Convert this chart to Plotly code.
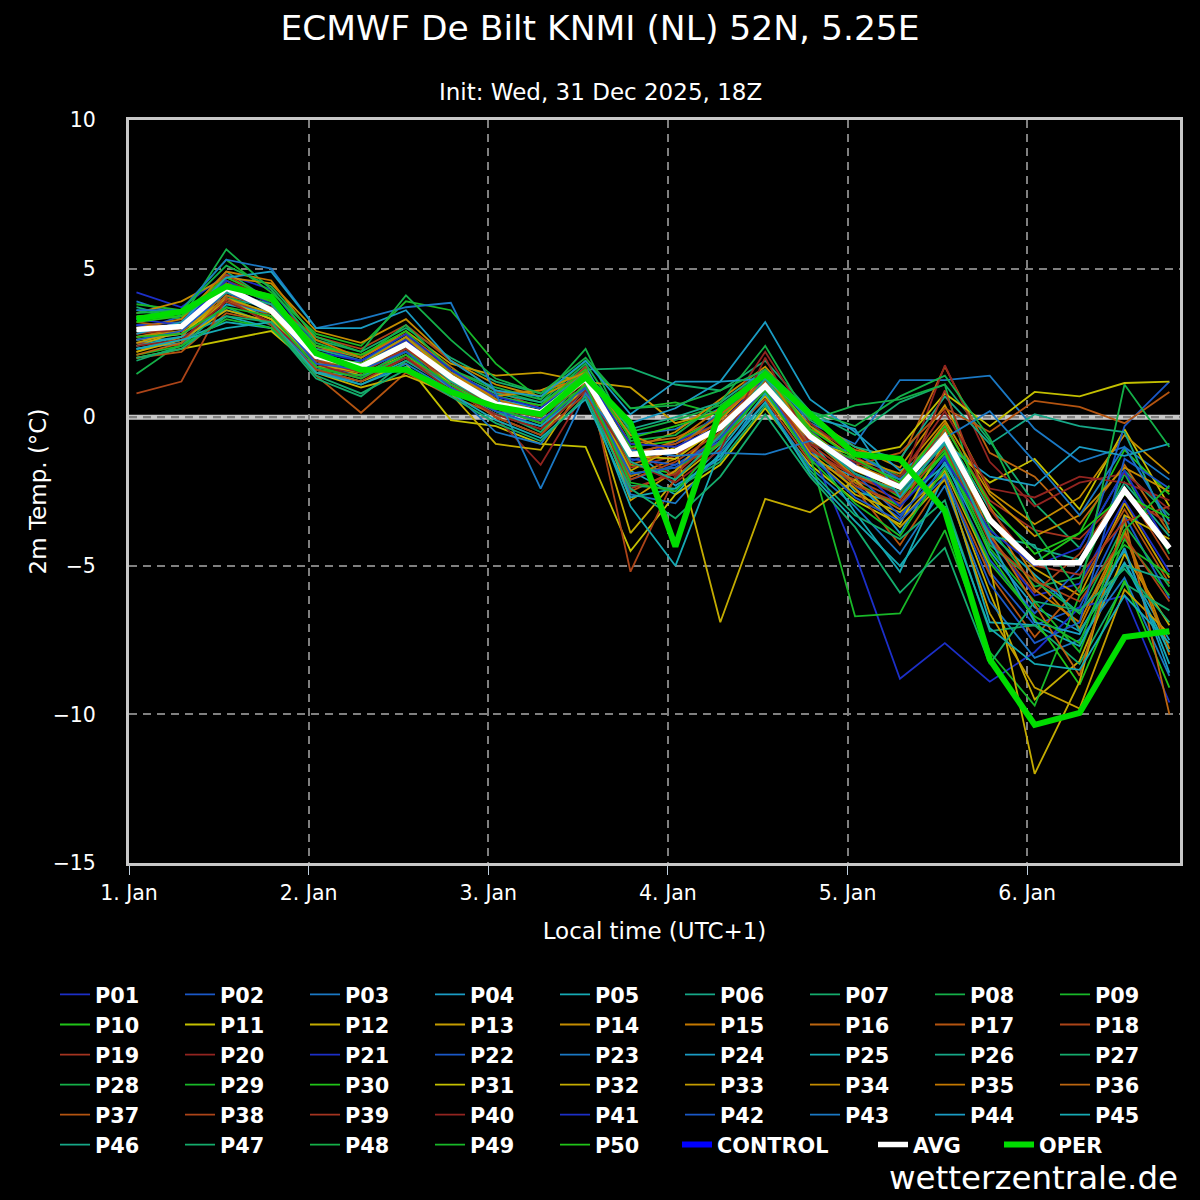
"""ECMWF ensemble 2m temperature plume for De Bilt."""

import plotly.graph_objects as go

times = [
    "2026-01-01 01:00", "2026-01-01 07:00", "2026-01-01 13:00", "2026-01-01 19:00",
    "2026-01-02 01:00", "2026-01-02 07:00", "2026-01-02 13:00", "2026-01-02 19:00",
    "2026-01-03 01:00", "2026-01-03 07:00", "2026-01-03 13:00", "2026-01-03 19:00",
    "2026-01-04 01:00", "2026-01-04 07:00", "2026-01-04 13:00", "2026-01-04 19:00",
    "2026-01-05 01:00", "2026-01-05 07:00", "2026-01-05 13:00", "2026-01-05 19:00",
    "2026-01-06 01:00", "2026-01-06 07:00", "2026-01-06 13:00", "2026-01-06 19:00",
]

day_ticks = ["2026-01-01", "2026-01-02", "2026-01-03", "2026-01-04", "2026-01-05", "2026-01-06"]
day_labels = ["1. Jan", "2. Jan", "3. Jan", "4. Jan", "5. Jan", "6. Jan"]

# one row per perturbed member P01..P50
members = [
    [4.2, 3.7, 4.8, 4.3, 2.4, 1.9, 2.6, 1.6, 0.5, 0.0, 1.4, -1.5, -0.8, -0.2, 1.3, -0.4, -1.9, -2.6, -0.9, -4.1, -6.0, -5.6, -2.8, -5.2],
    [3.1, 3.2, 4.5, 3.9, 1.8, 1.4, 2.2, 1.2, 0.2, -0.3, 1.1, -2.1, -1.6, -0.7, 0.9, -1.0, -2.3, -3.4, -1.3, -5.2, -7.0, -6.4, -3.3, -6.1],
    [3.9, 3.4, 4.0, 3.3, 1.6, 1.9, 2.5, 1.3, 0.6, 0.3, 1.5, -0.6, -0.4, 0.3, 1.6, -0.2, -0.9, 1.25, 1.25, 1.4, -0.4, -1.5, -1.0, -2.1],
    [2.5, 2.7, 4.3, 3.5, 2.2, 1.6, 2.7, 1.5, 0.7, 0.4, 1.7, -1.0, -2.3, -1.4, 0.8, -1.4, -2.0, -3.9, -1.5, -4.5, -6.4, -7.2, -4.9, -7.5],
    [2.3, 2.6, 3.2, 3.0, 1.5, 1.2, 1.9, 1.0, 0.3, -0.2, 1.3, -1.8, -2.6, -1.0, 1.0, -0.8, -2.5, -2.9, -1.6, -3.9, -5.3, -6.6, -4.5, -8.3],
    [2.6, 2.9, 4.0, 3.7, 1.9, 1.5, 2.4, 1.4, 0.4, 0.1, 1.4, -1.3, -1.1, 0.2, 1.4, -0.6, -1.5, -2.1, -0.5, -3.1, -4.4, -4.8, -2.2, -4.0],
    [3.7, 3.3, 4.9, 3.9, 2.6, 2.2, 3.0, 2.0, 1.2, 0.8, 1.6, 1.65, 1.1, 0.9, 1.9, 0.2, -0.6, 0.5, 1.1, -0.8, -2.9, -4.4, -1.8, -3.3],
    [1.45, 2.5, 4.1, 3.4, 2.0, 1.7, 2.6, 1.6, 0.9, 0.5, 1.8, -0.5, -0.1, 0.4, 1.5, -0.3, -1.2, -2.0, -0.4, -3.7, -5.7, -5.4, -1.9, -4.6],
    [3.8, 3.6, 5.3, 4.2, 2.8, 2.4, 3.9, 3.6, 1.8, 0.6, 1.9, 0.3, 0.5, 0.1, 1.2, -0.9, -1.4, -2.6, -1.1, -4.4, -6.2, -7.9, -4.1, -6.0],
    [3.3, 3.4, 4.6, 3.8, 2.1, 1.6, 2.3, 1.1, 0.3, 0.0, 1.2, -1.6, -1.9, -0.5, 1.2, -1.1, -2.2, -3.0, -1.2, -3.4, -4.9, -3.9, -1.1, -2.6],
    [2.0, 2.3, 2.6, 2.9, 1.6, 1.2, 1.8, -0.1, -0.3, -0.9, -1.0, -4.5, -2.6, -1.6, 0.3, -1.6, -2.8, -3.6, -0.8, -2.2, -1.4, -3.1, -0.4, -3.0],
    [2.4, 2.9, 3.9, 3.3, 1.9, 1.4, 2.1, 1.0, 0.0, -0.6, 1.1, -3.9, -2.1, -0.9, 0.7, -1.3, -2.6, -3.2, -1.9, -5.9, -9.5, -8.2, -4.6, -7.0],
    [2.9, 3.1, 4.4, 3.6, 2.4, 2.0, 2.9, 1.8, 1.4, 1.5, 1.2, 1.0, -0.2, 0.2, 1.1, -0.7, -1.8, -2.4, -0.6, -3.5, -5.1, -6.0, -2.9, -5.4],
    [3.5, 3.9, 4.7, 4.5, 2.9, 2.5, 3.3, 1.9, 1.1, 0.7, 1.4, -1.1, -0.5, 0.6, 1.7, 0.0, -1.0, -1.7, 0.4, -2.5, -3.6, -2.7, -0.6, -1.9],
    [2.2, 2.7, 4.2, 3.8, 1.8, 1.8, 2.6, 1.5, 0.8, 0.9, 1.3, -2.0, -1.4, -0.3, 1.2, -0.5, -1.6, -2.2, -0.2, -3.0, -5.4, -7.1, -3.9, -8.0],
    [2.7, 3.0, 4.5, 4.1, 2.3, 2.1, 2.8, 1.7, 0.6, 0.2, 1.6, -0.9, -0.7, 0.0, 1.3, -0.4, -1.1, -1.5, 1.7, -1.2, -2.0, -3.6, -1.6, -3.9],
    [2.0, 2.2, 3.5, 3.2, 1.4, 0.15, 1.5, 0.7, 0.1, -0.4, 1.0, -2.5, -1.8, -0.6, 1.1, -1.2, -2.4, -4.3, -2.0, -5.3, -7.4, -5.7, -3.1, -5.6],
    [2.8, 3.2, 4.8, 3.9, 2.7, 2.3, 3.1, 1.9, 0.9, 0.3, 1.7, -5.2, -2.0, -0.8, 0.6, -1.5, -2.1, -2.8, -0.7, -4.0, -5.9, -4.6, -2.4, -4.8],
    [2.5, 2.4, 4.0, 3.4, 1.7, 1.5, 2.0, 1.0, 0.2, -0.1, 1.0, -1.7, -1.3, -0.4, 1.0, -0.9, -2.0, -2.5, -0.3, -2.8, -3.8, -4.1, -2.6, -3.6],
    [3.0, 2.8, 4.6, 4.0, 2.2, 1.6, 2.3, 1.2, 0.0, -1.6, 0.9, -1.0, -2.0, -0.1, 2.2, -0.2, -1.3, -2.3, 1.75, -1.5, -3.0, -2.2, -1.9, -3.1],
    [3.1, 3.0, 4.4, 3.7, 2.0, 1.8, 2.6, 1.3, 0.5, 0.1, 1.2, -1.2, -0.9, 0.1, 1.3, -1.0, -4.6, -8.8, -7.6, -8.9, -7.9, -6.4, -6.0, -9.6],
    [2.9, 3.4, 4.2, 3.6, 1.7, 1.3, 2.3, 1.2, 0.3, 0.0, 1.3, -1.4, -1.6, -0.8, 1.0, -0.6, -1.9, -3.3, -1.7, -4.8, -6.6, -5.1, -0.3, 1.2],
    [2.6, 2.8, 3.6, 3.2, 1.6, 1.1, 1.8, 0.9, -0.5, -0.9, 1.0, -2.6, -2.9, -1.2, 0.5, -1.7, -3.0, -4.6, -2.3, -6.2, -8.1, -7.5, -5.4, -8.7],
    [2.3, 2.5, 3.8, 3.5, 1.9, 1.7, 2.5, 1.4, 0.6, 0.3, 1.5, -0.2, 0.3, 1.2, 3.2, 0.6, -0.5, -1.8, -0.9, -2.0, -2.3, -1.0, -1.3, -0.9],
    [2.4, 2.7, 3.4, 3.0, 1.5, 1.4, 2.0, 1.0, 0.1, -0.3, 0.9, -3.0, -5.0, -1.1, 0.8, -1.0, -3.2, -5.2, -1.9, -6.9, -7.0, -7.7, -4.9, -7.9],
    [3.3, 3.5, 4.3, 3.6, 2.3, 1.9, 2.7, 1.5, 0.8, 0.5, 1.4, -0.4, 0.0, 0.5, 1.6, -0.1, -1.0, -1.4, 0.7, -0.9, 0.1, -0.3, -0.5, -3.8],
    [1.9, 2.4, 3.7, 3.1, 1.3, 0.7, 1.9, 1.1, 0.2, -0.5, 1.1, -2.3, -2.4, -1.5, 0.4, -1.8, -3.3, -4.1, -2.8, -7.2, -7.0, -8.3, -5.6, -6.5],
    [3.6, 3.3, 5.65, 4.3, 2.5, 2.0, 3.1, 1.6, 1.0, 0.6, 2.3, -0.8, -0.6, 0.5, 2.4, -0.1, 0.4, 0.6, 1.1, -4.3, -5.5, -6.6, -3.6, -5.7],
    [2.1, 2.4, 3.3, 3.0, 1.6, 1.4, 2.2, 1.3, 0.4, 0.2, 1.0, -1.9, -1.7, -0.9, 1.1, -1.3, -6.7, -6.6, -3.8, -7.9, -9.7, -6.0, -4.3, -5.3],
    [3.4, 3.5, 4.7, 4.0, 2.4, 2.1, 2.9, 1.4, 0.7, 0.4, 1.6, -1.0, -0.8, 0.0, 1.4, -0.5, -1.7, -2.7, -1.2, -4.6, -6.8, -9.0, -5.5, -9.1],
    [2.6, 2.8, 3.9, 3.3, 1.8, 1.5, 2.5, 1.1, 0.3, 0.0, 1.3, -1.3, -1.4, -0.3, 1.0, -0.8, -1.3, -1.0, 0.8, -0.3, 0.85, 0.7, 1.15, 1.2],
    [2.2, 2.6, 3.6, 3.2, 1.5, 1.0, 1.4, 0.8, -0.9, -1.1, 1.2, -1.8, -1.0, -6.9, -2.75, -3.2, -2.1, -3.5, -1.8, -5.0, -12.0, -8.9, -3.3, -4.1],
    [2.5, 2.9, 4.0, 3.5, 1.7, 1.6, 2.4, 1.2, 0.4, 0.1, 1.4, -2.8, -1.8, -0.2, 1.1, -1.2, -2.4, -3.7, -2.1, -6.6, -9.1, -9.8, -5.8, -7.3],
    [2.7, 2.9, 4.3, 4.0, 2.0, 1.8, 2.7, 1.4, 0.7, 0.9, 1.5, -0.6, -1.2, -0.1, 1.4, -0.3, -1.4, -1.9, -0.1, -2.6, -4.0, -3.3, -1.7, -2.5],
    [3.0, 3.3, 4.9, 4.6, 2.6, 2.0, 2.8, 1.5, 0.6, 0.2, 1.4, -1.3, -0.8, 0.3, 1.5, -0.7, -2.0, -2.4, -0.6, -3.3, -5.8, -6.9, -3.8, -7.8],
    [2.1, 2.5, 4.1, 3.7, 1.9, 1.7, 2.5, 1.3, 0.5, 0.1, 1.3, -1.6, -1.1, 0.1, 1.2, -1.0, -2.2, -3.1, -0.4, -3.9, -6.3, -8.7, -3.4, -10.0],
    [3.2, 3.0, 4.5, 4.0, 2.1, 1.7, 2.4, 1.0, 0.3, -0.2, 1.1, -1.2, -0.9, -0.2, 1.2, -0.8, -1.6, -1.2, 0.3, -0.5, 0.55, 0.35, -0.2, 0.85],
    [0.8, 1.2, 4.0, 3.1, 1.6, 1.2, 2.0, 1.1, 0.0, -0.6, 0.8, -2.1, -1.5, -0.5, 0.9, -1.0, -2.3, -2.9, -1.0, -4.2, -5.5, -6.2, -4.0, -6.2],
    [2.8, 3.0, 4.3, 3.7, 1.9, 1.5, 2.3, 1.2, 0.3, 0.0, 1.2, -2.4, -1.9, -0.6, 1.1, -1.1, -2.0, -2.6, 0.9, -3.1, -5.0, -5.3, -3.5, -3.0],
    [2.4, 2.6, 3.9, 3.2, 1.8, 1.3, 2.0, 0.9, 0.1, -0.4, 0.9, -1.5, -2.2, -1.1, 2.0, -0.9, -1.5, -2.0, 0.2, -2.4, -2.7, -2.0, -2.2, -2.8],
    [3.3, 3.1, 4.6, 3.8, 2.2, 1.9, 2.8, 1.6, 0.7, 0.3, 1.4, -0.9, -1.0, -0.3, 1.1, -0.6, -1.6, -3.0, -1.4, -3.8, -5.0, -4.4, -1.8, -4.4],
    [2.6, 2.9, 4.2, 3.6, 1.8, 1.6, 2.2, 1.0, 0.2, -0.1, 1.0, -1.9, -1.7, -0.7, 1.0, -1.3, -2.7, -3.5, -2.0, -5.6, -7.6, -6.9, -1.4, -2.4],
    [3.6, 3.6, 5.3, 5.0, 3.0, 3.3, 3.7, 3.85, 0.8, -2.4, 0.8, -1.1, -1.3, -1.2, -1.25, -0.8, -1.2, -2.1, -0.7, 0.2, -1.5, -3.3, -1.0, -3.5],
    [2.8, 3.2, 4.7, 4.9, 3.0, 3.0, 3.6, 1.9, 0.9, 0.7, 1.9, 0.1, 1.2, 1.2, 1.3, 0.0, -0.4, -2.7, -0.8, -4.1, -6.9, -7.3, -4.4, -8.6],
    [2.3, 2.6, 3.0, 3.2, 1.5, 1.1, 1.7, 0.8, -0.1, -0.7, 0.6, -2.7, -2.4, -1.3, 0.5, -1.9, -3.5, -5.0, -3.0, -7.1, -8.3, -8.5, -6.0, -7.6],
    [2.9, 3.1, 4.2, 3.8, 2.2, 1.7, 2.5, 1.2, 0.4, 0.2, 1.3, -1.5, -2.1, -0.6, 1.3, -0.7, -1.9, -2.5, -0.9, -4.0, -4.3, -7.2, -5.0, -5.5],
    [2.0, 2.3, 3.4, 3.2, 1.4, 0.8, 1.6, 0.7, -0.2, -0.8, 0.7, -2.4, -3.4, -2.0, 0.1, -2.0, -3.7, -5.9, -4.4, -8.3, -6.2, -6.5, -5.1, -6.9],
    [3.5, 3.6, 5.1, 4.4, 2.7, 2.2, 4.1, 2.6, 1.3, 0.8, 2.0, 0.3, 0.4, 0.9, 1.6, 0.2, -0.3, 0.7, 1.4, -0.7, -3.8, -5.9, 1.1, -1.0],
    [2.7, 2.8, 3.7, 3.4, 1.7, 1.3, 2.1, 1.1, 0.3, -0.2, 1.1, -2.2, -2.5, -0.8, 0.9, -1.4, -2.9, -4.0, -1.7, -4.9, -6.7, -7.6, -3.8, -2.3],
    [3.2, 3.4, 4.4, 3.9, 2.1, 1.8, 2.5, 1.3, 0.5, 0.2, 1.5, -0.7, -0.3, 0.2, 1.5, -0.4, -1.4, -2.2, -0.3, -2.9, -4.6, -3.9, -2.6, -3.4],
]

# the control run has no values drawn in the picture (legend entry only)
control = [None] * len(times)
avg = [2.95, 3.05, 4.35, 3.6, 2.05, 1.7, 2.45, 1.35, 0.45, 0.15, 1.3, -1.25, -1.15, -0.35, 1.05, -0.65, -1.7, -2.35, -0.65, -3.45, -4.9, -4.9, -2.45, -4.4]
oper = [3.3, 3.55, 4.4, 4.05, 2.15, 1.6, 1.6, 0.85, 0.35, 0.1, 1.35, -0.2, -4.35, 0.25, 1.45, 0.1, -1.25, -1.4, -3.15, -8.15, -10.35, -9.95, -7.4, -7.2]

# colour cycle of the members (repeats every 20)
member_colors = [
    "#1c2fc8", "#1a58c8", "#1a78c4", "#1a9cc4", "#16aab4",
    "#16a888", "#14ac6c", "#14b048", "#18b828", "#20c418",
    "#c4c000", "#c4ac00", "#c49c00", "#c48c00", "#c47800",
    "#bc6610", "#b45410", "#ac4418", "#a43420", "#922420",
]

fig = go.Figure()

for i, values in enumerate(members):
    fig.add_trace(go.Scatter(
        x=times, y=values, mode="lines", name=f"P{i + 1:02d}",
        line=dict(color=member_colors[i % 20], width=1.8),
    ))

# last legend row has its own spacing, so these go to a second legend
fig.add_trace(go.Scatter(x=times, y=control, mode="lines", name="CONTROL",
                         line=dict(color="#0000ff", width=6), legend="legend2", legendwidth=151))
fig.add_trace(go.Scatter(x=times, y=avg, mode="lines", name="AVG",
                         line=dict(color="#ffffff", width=5.5), legend="legend2", legendwidth=81))
fig.add_trace(go.Scatter(x=times, y=oper, mode="lines", name="OPER",
                         line=dict(color="#00dd00", width=6), legend="legend2", legendwidth=80))

font = "DejaVu Sans"
legend_font = dict(family=font, size=20.8, color="#ffffff", weight="bold")

fig.update_layout(
    width=1200, height=1200,
    paper_bgcolor="#000000", plot_bgcolor="#000000",
    margin=dict(l=129, r=20, t=120, b=337),
    font=dict(family=font, color="#ffffff", size=20),
    title=dict(text="ECMWF De Bilt KNMI (NL) 52N, 5.25E", x=0.5, xref="container",
               y=1 - 28 / 1200, yanchor="middle", xanchor="center",
               font=dict(family=font, size=34.5, color="#ffffff")),
    showlegend=True,
    legend=dict(
        orientation="h", x=(55 - 129) / 1051, xanchor="left", y=-0.150, yanchor="top",
        entrywidth=80, entrywidthmode="pixels", traceorder="normal",
        font=legend_font, bgcolor="rgba(0,0,0,0)",
    ),
    legend2=dict(
        orientation="h", x=(677 - 129) / 1051, xanchor="left", y=-0.352, yanchor="top",
        entrywidthmode="pixels", traceorder="normal",
        font=legend_font, bgcolor="rgba(0,0,0,0)",
    ),
    xaxis=dict(
        range=["2026-01-01 00:00", "2026-01-06 20:25"],
        tickvals=day_ticks, ticktext=day_labels,
        showgrid=True, gridcolor="#808080", gridwidth=2, griddash="8px,6px",
        showline=True, linecolor="#c8c8c8", linewidth=3, mirror=True,
        ticks="outside", ticklen=9, tickcolor="#c0d0e0", tickwidth=1,
        tickfont=dict(size=20.5), zeroline=False,
        title=dict(text="Local time (UTC+1)", font=dict(size=23), standoff=20),
    ),
    yaxis=dict(
        range=[-15, 10], tickvals=[-15, -10, -5, 0, 5, 10],
        showgrid=True, gridcolor="#808080", gridwidth=2, griddash="8px,6px",
        showline=True, linecolor="#c8c8c8", linewidth=3, mirror=True,
        zeroline=False, ticks="", ticklabelstandoff=26, tickfont=dict(size=20.5),
        title=dict(text="2m Temp. (°C)", font=dict(size=23), standoff=0),
    ),
    shapes=[
        dict(type="line", xref="paper", x0=0, x1=1, yref="y", y0=0, y1=0,
             line=dict(color="#c8c8c8", width=5), layer="between"),
        dict(type="line", xref="paper", x0=0, x1=1, yref="y", y0=0, y1=0,
             line=dict(color="#808080", width=2, dash="8px,6px"), layer="between"),
    ],
    annotations=[
        dict(text="Init: Wed, 31 Dec 2025, 18Z", xref="paper", yref="paper",
             x=(600 - 129) / 1051, y=(863 - 92) / 743, xanchor="center", yanchor="middle",
             showarrow=False, font=dict(family=font, size=23, color="#ffffff")),
        dict(text="wetterzentrale.de", xref="paper", yref="paper",
             x=1.0, y=-(1178 - 863) / 743, xanchor="right", yanchor="middle",
             showarrow=False, font=dict(family=font, size=32.5, color="#ffffff")),
    ],
)

fig.write_html("out.html", config={"displayModeBar": False},
               post_script="document.body.style.margin = '0';")
